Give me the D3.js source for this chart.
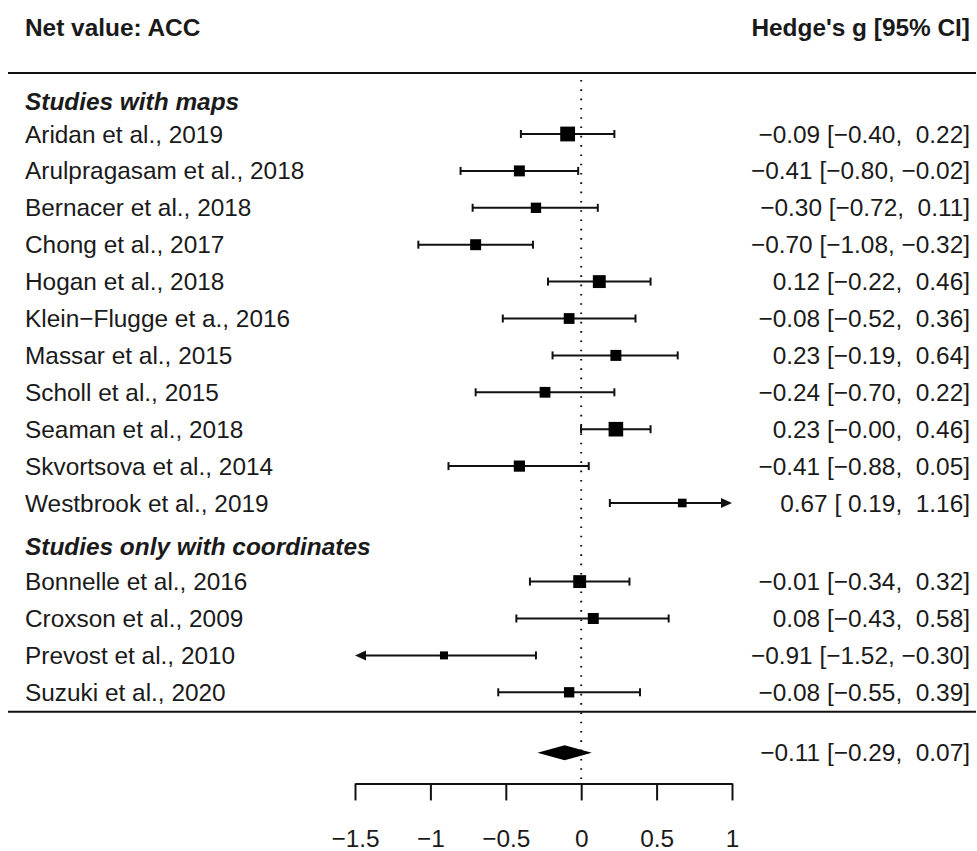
<!DOCTYPE html>
<html>
<head>
<title>Net value: ACC forest plot</title>
<style>
  body { margin: 0; background-color: #ffffff; }
  svg text { font-family: "Liberation Sans", Arial, sans-serif; font-size: 24.4px; fill: #1a1a1a; white-space: pre; }
  .bold { font-weight: bold; }
  .heading { font-weight: bold; font-style: italic; }
</style>
</head>
<body>

<svg id="chart"></svg>

<script src="https://cdnjs.cloudflare.com/ajax/libs/d3/7.8.5/d3.min.js"></script>
<script>
  // Studies (two groups), Hedge's g with 95% CI, relative weights (%)
  const groupNames = ["Studies with maps", "Studies only with coordinates"];

  const studiesMaps = ["Aridan et al., 2019", "Arulpragasam et al., 2018", "Bernacer et al., 2018",
    "Chong et al., 2017", "Hogan et al., 2018", "Klein\u2212Flugge et a., 2016", "Massar et al., 2015",
    "Scholl et al., 2015", "Seaman et al., 2018", "Skvortsova et al., 2014", "Westbrook et al., 2019"];
  const estMaps = [-0.09, -0.41, -0.30, -0.70, 0.12, -0.08, 0.23, -0.24, 0.23, -0.41, 0.67];
  const lowMaps = [-0.40, -0.80, -0.72, -1.08, -0.22, -0.52, -0.19, -0.70, -0.001, -0.88, 0.19];
  const highMaps = [0.22, -0.02, 0.11, -0.32, 0.46, 0.36, 0.64, 0.22, 0.46, 0.05, 1.16];
  const weightMaps = [8.4, 6.6, 6.3, 6.6, 7.5, 6.5, 6.6, 6.5, 8.3, 6.7, 5.5];

  const studiesCoords = ["Bonnelle et al., 2016", "Croxson et al., 2009", "Prevost et al., 2010", "Suzuki et al., 2020"];
  const estCoords = [-0.01, 0.08, -0.91, -0.08];
  const lowCoords = [-0.34, -0.43, -1.52, -0.55];
  const highCoords = [0.32, 0.58, -0.30, 0.39];
  const weightCoords = [7.5, 6.6, 5.2, 6.3];

  // pooled random-effects estimate
  const pooled = { est: -0.11, low: -0.29, high: 0.07 };

  const axisTicks = [-1.5, -1, -0.5, 0, 0.5, 1];
  const titleLeft = "Net value: ACC";
  const titleRight = "Hedge's g [95% CI]";

  const width = 977, height = 851;
  const svg = d3.select("#chart").attr("width", width).attr("height", height);

  // x: effect size -> pixels, y: row number -> pixels
  const x = d3.scaleLinear().domain([-1.5, 1]).range([355, 732]);
  const y = d3.scaleLinear().domain([0, 1]).range([134, 170.9]);
  const sizeScale = d3.scaleLinear()
    .domain(d3.extent(weightMaps.concat(weightCoords)))
    .range([8, 14.8]);

  const labelX = 25, annotX = 970, ruleX0 = 8, ruleX1 = 976;
  const secondStart = 12.13;
  const ink = "#111";

  // build rows
  const rows = [];
  studiesMaps.forEach(function(s, i) {
    rows.push({ name: s, est: estMaps[i], low: lowMaps[i], high: highMaps[i], w: weightMaps[i], row: i });
  });
  studiesCoords.forEach(function(s, i) {
    rows.push({ name: s, est: estCoords[i], low: lowCoords[i], high: highCoords[i], w: weightCoords[i], row: secondStart + i });
  });

  function fmt(v) {
    const s = Math.abs(v).toFixed(2);
    return (v < 0 ? "\u2212" : " ") + s;
  }
  function annot(d) {
    return fmt(d.est) + " [" + fmt(d.low) + ", " + fmt(d.high) + "]";
  }

  // reference line at zero (dotted)
  svg.append("line")
    .attr("x1", x(0)).attr("x2", x(0))
    .attr("y1", 80).attr("y2", y(17.6))
    .attr("stroke", ink).attr("stroke-width", 2)
    .attr("stroke-dasharray", "1.6 7.7");

  // header
  svg.append("text").attr("class", "bold")
    .attr("x", labelX).attr("y", y(-2.9)).attr("dy", "0.35em").text(titleLeft);
  svg.append("text").attr("class", "bold")
    .attr("x", annotX).attr("y", y(-2.9)).attr("dy", "0.35em")
    .attr("text-anchor", "end").text(titleRight);

  // horizontal rules
  [-1.65, 15.66].forEach(function(r) {
    svg.append("line")
      .attr("x1", ruleX0).attr("x2", ruleX1)
      .attr("y1", y(r)).attr("y2", y(r))
      .attr("stroke", ink).attr("stroke-width", 2);
  });

  // group headings
  svg.append("text").attr("class", "heading")
    .attr("x", labelX).attr("y", y(-0.88)).attr("dy", "0.35em").text(groupNames[0]);
  svg.append("text").attr("class", "heading")
    .attr("x", labelX).attr("y", y(11.17)).attr("dy", "0.35em").text(groupNames[1]);

  const g = svg.append("g");
  const lo = x.domain()[0], hi = x.domain()[1];
  const capH = 4, arrowL = 11, arrowH = 5;

  rows.forEach(function(d) {
    const cy = y(d.row);
    const x0 = x(Math.max(d.low, lo));
    const x1 = x(Math.min(d.high, hi));
    const clipL = d.low < lo, clipR = d.high > hi;

    g.append("line")
      .attr("x1", clipL ? x0 + arrowL - 1 : x0).attr("x2", clipR ? x1 - arrowL + 1 : x1)
      .attr("y1", cy).attr("y2", cy)
      .attr("stroke", ink).attr("stroke-width", 2);

    if (clipL) {
      g.append("path")
        .attr("d", "M" + x0 + "," + cy + "L" + (x0 + arrowL) + "," + (cy - arrowH) +
          "L" + (x0 + arrowL) + "," + (cy + arrowH) + "Z")
        .attr("fill", ink);
    } else {
      g.append("line").attr("x1", x0).attr("x2", x0)
        .attr("y1", cy - capH).attr("y2", cy + capH)
        .attr("stroke", ink).attr("stroke-width", 2);
    }
    if (clipR) {
      g.append("path")
        .attr("d", "M" + x1 + "," + cy + "L" + (x1 - arrowL) + "," + (cy - arrowH) +
          "L" + (x1 - arrowL) + "," + (cy + arrowH) + "Z")
        .attr("fill", ink);
    } else {
      g.append("line").attr("x1", x1).attr("x2", x1)
        .attr("y1", cy - capH).attr("y2", cy + capH)
        .attr("stroke", ink).attr("stroke-width", 2);
    }

    const s = sizeScale(d.w);
    g.append("rect")
      .attr("x", x(d.est) - s / 2).attr("y", cy - s / 2)
      .attr("width", s).attr("height", s)
      .attr("fill", "#000");

    g.append("text")
      .attr("x", labelX).attr("y", cy).attr("dy", "0.35em")
      .text(d.name);
    g.append("text")
      .attr("x", annotX).attr("y", cy).attr("dy", "0.35em")
      .attr("text-anchor", "end")
      .text(annot(d));
  });

  // summary diamond
  const sy = y(16.77);
  svg.append("polygon")
    .attr("points", [
      [x(pooled.low), sy], [x(pooled.est), sy - 7.5],
      [x(pooled.high), sy], [x(pooled.est), sy + 7.5]
    ].map(function(p) { return p.join(","); }).join(" "))
    .attr("fill", "#000");
  svg.append("text")
    .attr("x", annotX).attr("y", sy).attr("dy", "0.35em")
    .attr("text-anchor", "end")
    .text(annot(pooled));

  // x axis
  const axis = d3.axisBottom(x)
    .tickValues(axisTicks)
    .tickSize(17)
    .tickSizeOuter(0)
    .tickPadding(29)
    .tickFormat(function(v) { return v < 0 ? "\u2212" + Math.abs(v) : String(v); });

  const ax = svg.append("g")
    .attr("transform", "translate(0," + y(17.6) + ")")
    .call(axis);
  ax.select(".domain").attr("stroke", ink).attr("stroke-width", 2);
  ax.selectAll(".tick line").attr("stroke", ink).attr("stroke-width", 2);
  ax.selectAll(".tick text")
    .attr("font-family", "'Liberation Sans', Arial, sans-serif")
    .attr("font-size", 24.4).attr("fill", "#1a1a1a");
</script>

</body>
</html>
